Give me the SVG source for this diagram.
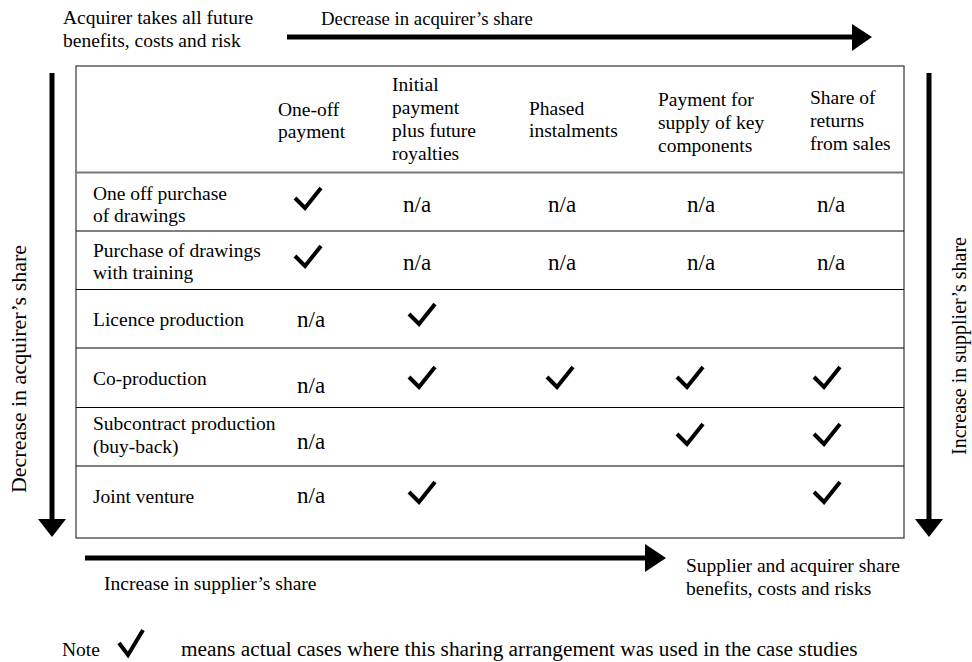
<svg xmlns="http://www.w3.org/2000/svg" xmlns:xlink="http://www.w3.org/1999/xlink" width="972" height="662" viewBox="0 0 972 662">
<style>
text{font-family:"Liberation Serif","Times New Roman",serif;fill:#000}
.t{font-size:19.5px}
.na{font-size:23px}
.grid{stroke:#000;stroke-width:1.2}
.arrow{stroke:#000;stroke-width:5;fill:none}
</style>
<defs>
<path id="chk" d="M1,12 L11,22 L27,2" fill="none" stroke="#000" stroke-width="4" stroke-linejoin="miter"/>
</defs>
<rect width="972" height="662" fill="#fff"/>

<g id="connectors">
<line class="arrow" x1="287" y1="37" x2="853" y2="37"/>
<polygon points="852,24 872,37 852,51" fill="#000"/>
<line class="arrow" x1="52" y1="73" x2="52" y2="520"/>
<polygon points="38,519 66,519 52,537" fill="#000"/>
<line class="arrow" x1="929" y1="73" x2="929" y2="520"/>
<polygon points="915,519 943,519 929,537" fill="#000"/>
<line class="arrow" x1="85" y1="558" x2="647" y2="558"/>
<polygon points="645,544 666,558 645,572" fill="#000"/>
</g>

<g id="labels">
<text class="t" x="63" y="24">Acquirer takes all future</text>
<text class="t" x="63" y="47">benefits, costs and risk</text>
<text x="321" y="25" font-size="18.8">Decrease in acquirer’s share</text>
<text font-size="22" transform="translate(26,369) rotate(-90)" text-anchor="middle">Decrease in acquirer’s share</text>
<text font-size="20" transform="translate(966,346) rotate(-90)" text-anchor="middle">Increase in supplier’s share</text>
<text class="t" x="104" y="590">Increase in supplier’s share</text>
<text class="t" x="686" y="572">Supplier and acquirer share</text>
<text class="t" x="686" y="595">benefits, costs and risks</text>
</g>

<g id="table">
<rect x="76" y="66" width="828" height="472" fill="none" stroke="#444" stroke-width="1.3"/>
<line x1="76" y1="172.5" x2="904" y2="172.5" stroke="#777" stroke-width="2.2"/>
<line class="grid" x1="76" y1="231" x2="904" y2="231"/>
<line class="grid" x1="76" y1="289.5" x2="904" y2="289.5"/>
<line class="grid" x1="76" y1="348" x2="904" y2="348"/>
<line class="grid" x1="76" y1="407.5" x2="904" y2="407.5"/>
<line class="grid" x1="76" y1="466" x2="904" y2="466"/>
</g>

<g id="header">
<text class="t" x="278" y="116">One-off</text>
<text class="t" x="278" y="138">payment</text>
<text class="t" x="392" y="91">Initial</text>
<text class="t" x="392" y="114">payment</text>
<text class="t" x="392" y="137">plus future</text>
<text class="t" x="392" y="160">royalties</text>
<text class="t" x="529" y="115">Phased</text>
<text class="t" x="529" y="137">instalments</text>
<text class="t" x="658" y="106">Payment for</text>
<text class="t" x="658" y="129">supply of key</text>
<text class="t" x="658" y="152">components</text>
<text class="t" x="810" y="104">Share of</text>
<text class="t" x="810" y="127">returns</text>
<text class="t" x="810" y="150">from sales</text>
</g>

<g id="row1">
<text class="t" x="93" y="200">One off purchase</text>
<text class="t" x="93" y="222">of drawings</text>
<use href="#chk" x="294" y="186"/>
<text class="na" x="403" y="212">n/a</text>
<text class="na" x="548" y="212">n/a</text>
<text class="na" x="687" y="212">n/a</text>
<text class="na" x="817" y="212">n/a</text>
</g>

<g id="row2">
<text class="t" x="93" y="257">Purchase of drawings</text>
<text class="t" x="93" y="279">with training</text>
<use href="#chk" x="294" y="244"/>
<text class="na" x="403" y="270">n/a</text>
<text class="na" x="548" y="270">n/a</text>
<text class="na" x="687" y="270">n/a</text>
<text class="na" x="817" y="270">n/a</text>
</g>

<g id="row3">
<text class="t" x="93" y="326">Licence production</text>
<text class="na" x="297" y="327">n/a</text>
<use href="#chk" x="408" y="302"/>
</g>

<g id="row4">
<text class="t" x="93" y="385">Co-production</text>
<text class="na" x="297" y="393">n/a</text>
<use href="#chk" x="408" y="365"/>
<use href="#chk" x="546" y="365"/>
<use href="#chk" x="676" y="365"/>
<use href="#chk" x="813" y="365"/>
</g>

<g id="row5">
<text class="t" x="93" y="430">Subcontract production</text>
<text class="t" x="93" y="453">(buy-back)</text>
<text class="na" x="297" y="449">n/a</text>
<use href="#chk" x="676" y="422"/>
<use href="#chk" x="813" y="422"/>
</g>

<g id="row6">
<text class="t" x="93" y="503">Joint venture</text>
<text class="na" x="297" y="503">n/a</text>
<use href="#chk" x="408" y="480"/>
<use href="#chk" x="813" y="480"/>
</g>

<g id="note">
<text class="t" x="62" y="656">Note</text>
<path d="M119,643 L128,655 L143,630" fill="none" stroke="#000" stroke-width="4"/>
<text x="181" y="656" font-size="21.3">means actual cases where this sharing arrangement was used in the case studies</text>
</g>
</svg>
